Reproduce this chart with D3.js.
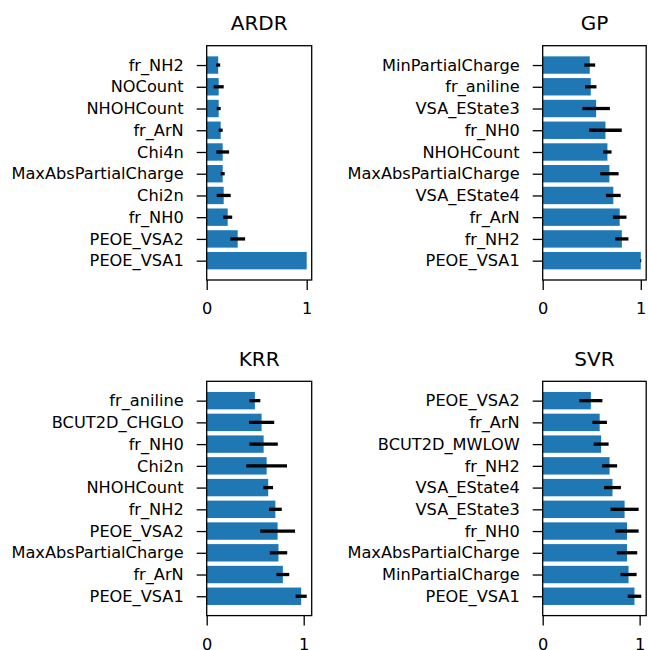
<!DOCTYPE html>
<html>
<head>
<meta charset="utf-8">
<script src="https://cdn.jsdelivr.net/npm/d3@7"></script>
<style>
  body { margin: 0; background: #fff; }
  text { font-family: "DejaVu Sans", sans-serif; fill: #000; }
</style>
</head>
<body>
<script>
const width = 648;
const height = 650;

// feature importances, bottom bar first
const ardrFeatures = ["PEOE_VSA1", "PEOE_VSA2", "fr_NH0", "Chi2n", "MaxAbsPartialCharge", "Chi4n", "fr_ArN", "NHOHCount", "NOCount", "fr_NH2"];
const ardrValues = [1.0, 0.31, 0.21, 0.17, 0.16, 0.16, 0.14, 0.12, 0.12, 0.115];
const ardrErrors = [0.0, 0.074, 0.045, 0.07, 0.02, 0.064, 0.02, 0.02, 0.05, 0.02];

const gpFeatures = ["PEOE_VSA1", "fr_NH2", "fr_ArN", "VSA_EState4", "MaxAbsPartialCharge", "NHOHCount", "fr_NH0", "VSA_EState3", "fr_aniline", "MinPartialCharge"];
const gpValues = [1.0, 0.807, 0.785, 0.72, 0.68, 0.66, 0.64, 0.545, 0.49, 0.48];
const gpErrors = [0.005, 0.067, 0.069, 0.075, 0.094, 0.042, 0.166, 0.14, 0.058, 0.055];

const krrFeatures = ["PEOE_VSA1", "fr_ArN", "MaxAbsPartialCharge", "PEOE_VSA2", "fr_NH2", "NHOHCount", "Chi2n", "fr_NH0", "BCUT2D_CHGLO", "fr_aniline"];
const krrValues = [0.974, 0.785, 0.74, 0.731, 0.708, 0.634, 0.618, 0.587, 0.566, 0.497];
const krrErrors = [0.057, 0.066, 0.09, 0.18, 0.066, 0.05, 0.21, 0.146, 0.13, 0.056];

const svrFeatures = ["PEOE_VSA1", "MinPartialCharge", "MaxAbsPartialCharge", "fr_NH0", "VSA_EState3", "VSA_EState4", "fr_NH2", "BCUT2D_MWLOW", "fr_ArN", "PEOE_VSA2"];
const svrValues = [0.947, 0.886, 0.87, 0.87, 0.845, 0.72, 0.69, 0.603, 0.588, 0.497];
const svrErrors = [0.07, 0.083, 0.105, 0.12, 0.145, 0.087, 0.078, 0.077, 0.075, 0.119];

const xTicks = [0, 1];

const panels = [
    {title: "ARDR", features: ardrFeatures, values: ardrValues, errors: ardrErrors, left: 206.7, top: 45.7, w: 105, h: 234.3},
    {title: "GP", features: gpFeatures, values: gpValues, errors: gpErrors, left: 542.7, top: 45.7, w: 103.5, h: 234.3},
    {title: "KRR", features: krrFeatures, values: krrValues, errors: krrErrors, left: 206.7, top: 381.3, w: 105, h: 234.3},
    {title: "SVR", features: svrFeatures, values: svrValues, errors: svrErrors, left: 542.7, top: 381.3, w: 103.5, h: 234.3}
];

const svg = d3.select("body").append("svg")
    .attr("width", width)
    .attr("height", height);

function drawPanel(p) {
    const g = svg.append("g").attr("transform", `translate(${p.left},${p.top})`);
    const n = p.features.length;

    // matplotlib style limits: bars from 0, 5% margin on the data max
    const xmax = d3.max(p.values.map((v, i) => v + p.errors[i])) * 1.05;
    const x = d3.scaleLinear().domain([0, xmax]).range([0, p.w]);
    const y = d3.scaleLinear().domain([-0.89, n - 1 + 0.89]).range([p.h, 0]);
    const barH = y(0) - y(0.8);

    const data = p.features.map((f, i) => ({f, i, v: p.values[i], e: p.errors[i]}));

    g.selectAll(".bar")
        .data(data)
        .enter().append("rect")
        .attr("class", "bar")
        .attr("x", x(0))
        .attr("y", d => y(d.i) - barH / 2)
        .attr("width", d => x(d.v) - x(0))
        .attr("height", barH)
        .attr("fill", "#1f77b4");

    g.selectAll(".err")
        .data(data.filter(d => d.e > 0))
        .enter().append("line")
        .attr("class", "err")
        .attr("x1", d => x(d.v - d.e))
        .attr("x2", d => x(d.v + d.e))
        .attr("y1", d => y(d.i))
        .attr("y2", d => y(d.i))
        .attr("stroke", "#000")
        .attr("stroke-width", 3.3);

    // axes
    const yAxis = d3.axisLeft(y)
        .tickValues(d3.range(n))
        .tickFormat(i => p.features[i])
        .tickSize(10)
        .tickPadding(13);
    const gy = g.append("g").call(yAxis);
    gy.select(".domain").remove();
    gy.selectAll("line").attr("stroke-width", 1.3);
    gy.selectAll("text").style("font-size", "16.2px");

    const xAxis = d3.axisBottom(x)
        .tickValues(xTicks)
        .tickFormat(d3.format("d"))
        .tickSize(10)
        .tickPadding(12.5);
    const gx = g.append("g").attr("transform", `translate(0,${p.h})`).call(xAxis);
    gx.select(".domain").remove();
    gx.selectAll("line").attr("stroke-width", 1.3);
    gx.selectAll("text").style("font-size", "16.2px");

    g.append("rect")
        .attr("width", p.w)
        .attr("height", p.h)
        .attr("fill", "none")
        .attr("stroke", "#000")
        .attr("stroke-width", 1.3);

    g.append("text")
        .attr("x", p.w / 2)
        .attr("y", -15.7)
        .attr("text-anchor", "middle")
        .style("font-size", "20px")
        .text(p.title);
}

panels.forEach(drawPanel);
</script>
</body>
</html>
